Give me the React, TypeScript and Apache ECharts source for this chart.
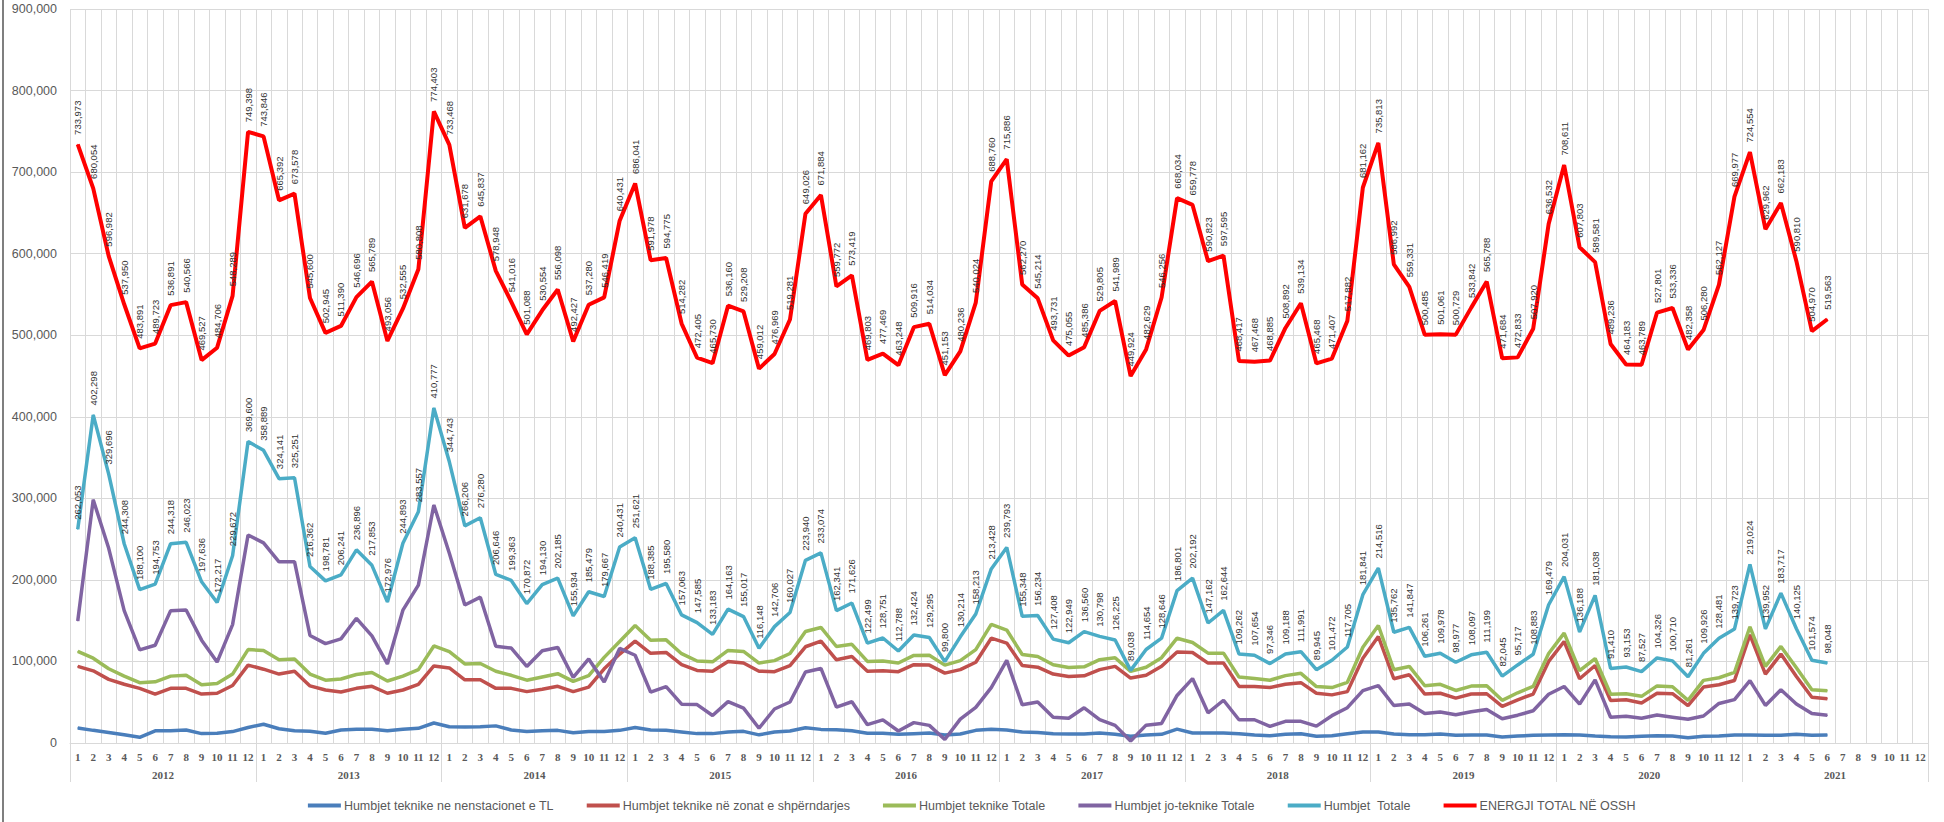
import React, { useEffect, useRef } from "react";
import * as echarts from "echarts";

const years = ["2012", "2013", "2014", "2015", "2016", "2017", "2018", "2019", "2020", "2021"];
const months = ["1", "2", "3", "4", "5", "6", "7", "8", "9", "10", "11", "12"];
const yTicks = [0, 900000, 100000]; // min, max, interval

const seriesNames = [
  "Humbjet teknike ne nenstacionet e TL",
  "Humbjet teknike në zonat e shpërndarjes",
  "Humbjet teknike Totale",
  "Humbjet jo-teknike Totale",
  "Humbjet  Totale",
  "ENERGJI TOTAL NË OSSH",
];

const humbjetTL = [
  18400, 15500, 13000, 10000, 7000, 15000, 15000, 16000, 11500, 12000, 14000, 19000,
  23000, 17500, 15000, 14500, 12000, 16000, 17000, 17000, 15000, 17000, 18000, 24500,
  20000, 19500, 20000, 21000, 16000, 14000, 15000, 15500, 12500, 14000, 14000, 15500,
  19000, 16000, 15500, 13500, 11500, 11500, 13500, 14300, 10000, 13500, 14700, 18800,
  16700, 16300, 15000, 12000, 12000, 10600, 11400, 12200, 9800, 11000, 15500, 17000,
  16000, 13500, 13000, 11400, 11000, 11000, 12200, 10600, 8200, 9800, 10600, 17000,
  12200, 12200, 12200, 11400, 9800, 9000, 10600, 11400, 8200, 9000, 11400, 13500,
  13500, 11000, 10200, 10200, 11000, 9400, 9800, 9800, 7300, 8600, 9400, 9800,
  10200, 9800, 8600, 7800, 7300, 8200, 9000, 8600, 6500, 8200, 8600, 9800,
  9800, 9400, 9400, 10600, 9400, 9800,
];

const humbjetZonat = [
  94000, 88500, 78000, 72000, 67000, 60000, 67000, 67000, 60000, 61000, 70500, 95500,
  90500, 84500, 88000, 70000, 65000, 62500, 67000, 69500, 61000, 65000, 72000, 94500,
  92000, 77500, 77500, 67000, 67000, 63000, 66000, 69500, 63000, 68500, 91000, 109000,
  125000, 110000, 111000, 96000, 89000, 88000, 100000, 98000, 88000, 87500, 95000, 118000,
  125000, 102000, 106000, 88000, 88500, 87500, 96000, 95500, 85700, 90000, 99000, 128500,
  122500, 95000, 93000, 84500, 81600, 82400, 90000, 94000, 79600, 83000, 94000, 111500,
  111000, 98000, 98000, 69400, 69400, 68000, 72000, 74000, 61000, 59000, 63000, 104000,
  130600, 78800, 83700, 60000, 61000, 55000, 60000, 60400, 45000, 53000, 60000, 100000,
  124500, 78800, 95000, 52000, 53000, 49000, 61000, 60400, 45700, 68600, 71400, 76700,
  132700, 84500, 109000, 81600, 56000, 54300,
];

const humbjetTeknike = [
  112400, 104000, 91000, 82000, 74000, 75000, 82000, 83000, 71500, 73000, 84500, 114500,
  113500, 102000, 103000, 84500, 77000, 78500, 84000, 86500, 76000, 82000, 90000, 119000,
  112000, 97000, 97500, 88000, 83000, 77000, 81000, 85000, 75500, 82500, 105000, 124500,
  144000, 126000, 126500, 109500, 100500, 99500, 113500, 112300, 98000, 101000, 109700, 136800,
  141700, 118300, 121000, 100000, 100500, 98100, 107400, 107700, 95500, 101000, 114500, 145500,
  138500, 108500, 106000, 95900, 92600, 93400, 102200, 104600, 87800, 92800, 104600, 128500,
  123200, 110200, 110200, 80800, 79200, 77000, 82600, 85400, 69200, 68000, 74400, 117500,
  144100, 89800, 93900, 70200, 72000, 64400, 69800, 70200, 52300, 61600, 69400, 109800,
  134700, 88600, 103600, 59800, 60300, 57200, 70000, 69000, 52200, 76800, 80000, 86500,
  142500, 93900, 118400, 92200, 65400, 64100,
];

const humbjetJoTeknike = [
  149700, 298300, 238700, 162300, 114100, 119800, 162300, 163000, 126100, 99200, 145200, 255100,
  245400, 222100, 222300, 131900, 121800, 127700, 152900, 131400, 97000, 162900, 193600, 291800,
  232700, 169200, 178800, 118600, 116400, 93900, 113100, 117200, 80400, 103000, 74700, 115900,
  107600, 62400, 69100, 47600, 47100, 33700, 50700, 42700, 18100, 41700, 50300, 87100,
  91400, 44000, 50600, 22500, 28300, 14700, 25000, 21600, 4300, 29200, 43700, 67900,
  101300, 46800, 50200, 31500, 30300, 43200, 28600, 21600, 2500, 21900, 24000, 58300,
  79000, 37000, 52400, 28500, 28500, 20300, 26600, 26600, 20700, 33500, 43300, 64300,
  70400, 46000, 47900, 36100, 38000, 34600, 38300, 41000, 29700, 34100, 39500, 59700,
  69300, 47600, 77400, 31600, 32900, 30300, 34300, 31700, 29100, 33100, 48500, 53200,
  76500, 46100, 65300, 47900, 36200, 33900,
];

const humbjetTotale = [
  262053, 402298, 329696, 244308, 188100, 194753, 244318, 246023, 197636, 172217, 229672, 369600,
  358889, 324141, 325251, 216362, 198781, 206241, 236896, 217853, 172976, 244893, 283557, 410777,
  344743, 266206, 276280, 206646, 199363, 170872, 194130, 202185, 155934, 185479, 179667, 240431,
  251621, 188385, 195580, 157063, 147585, 133183, 164163, 155017, 116148, 142706, 160027, 223940,
  233074, 162341, 171626, 122499, 128751, 112788, 132424, 129295, 99800, 130214, 158213, 213428,
  239793, 155348, 156234, 127408, 122949, 136560, 130798, 126225, 89038, 114654, 128646, 186801,
  202192, 147162, 162644, 109262, 107654, 97346, 109188, 111991, 89945, 101472, 117705, 181841,
  214516, 135762, 141847, 106261, 109978, 98977, 108097, 111199, 82045, 95717, 108883, 169479,
  204031, 136188, 181038, 91410, 93153, 87527, 104326, 100710, 81261, 109926, 128481, 139723,
  219024, 139952, 183717, 140125, 101574, 98048,
];

const energjiTotal = [
  733973, 680054, 596982, 537950, 483891, 489723, 536891, 540566, 469527, 484706, 548289, 749398,
  743846, 665392, 673578, 545600, 502945, 511390, 546696, 565789, 493056, 532555, 580808, 774403,
  733468, 631678, 645837, 578948, 541016, 501088, 530554, 556098, 492427, 537280, 546419, 640431,
  686041, 591978, 594775, 514282, 472405, 465730, 536160, 529208, 459012, 476969, 519281, 649026,
  671884, 559772, 573419, 469803, 477469, 463248, 509916, 514034, 451153, 480236, 540024, 688760,
  715886, 562270, 545214, 493731, 475055, 485386, 529805, 541989, 449924, 482629, 546256, 668034,
  659778, 590823, 597595, 468417, 467468, 468885, 508892, 539134, 465468, 471407, 517882, 681162,
  735813, 586992, 559331, 500485, 501061, 500729, 533842, 565788, 471684, 472833, 507920, 636532,
  708611, 607803, 589581, 489236, 464183, 463789, 527801, 533336, 482358, 506280, 562127, 669977,
  724554, 629962, 662183, 590810, 504970, 519563,
];

const seriesData = [humbjetTL, humbjetZonat, humbjetTeknike, humbjetJoTeknike, humbjetTotale, energjiTotal];
const seriesColors = ["#4a7ebb", "#c0504d", "#9bbb59", "#8064a2", "#4bacc6", "#ff0000"];
const labelled = [false, false, false, false, true, true];

const categories = years.flatMap((y) => months.map((m) => `${y}-${m}`));

const fmt = (v: number) => Number(v).toLocaleString("en-US");

export default function App() {
  const ref = useRef<HTMLDivElement>(null);

  useEffect(() => {
    if (!ref.current) return;
    const chart = echarts.init(ref.current, undefined, { renderer: "svg" });
    const gray = "#595959";
    const grid = "#d9d9d9";

    const series = seriesNames.map((name, i) => ({
      name,
      type: "line",
      data: seriesData[i],
      xAxisIndex: 0,
      yAxisIndex: 0,
      symbol: "circle",
      symbolSize: 1,
      showSymbol: true,
      z: 2 + i,
      lineStyle: { color: seriesColors[i], width: i === 5 ? 4 : 3.5 },
      itemStyle: { color: seriesColors[i] },
      emphasis: { disabled: true },
      label: labelled[i]
        ? {
            show: true,
            position: "top",
            rotate: 90,
            align: "left",
            verticalAlign: "middle",
            distance: 9,
            fontSize: 9.5,
            fontFamily: "Liberation Sans",
            color: "#333333",
            formatter: (p: any) => fmt(p.value),
          }
        : { show: false },
    }));

    chart.setOption({
      animation: false,
      backgroundColor: "#ffffff",
      grid: { left: 70, right: 16, top: 9, bottom: 79, containLabel: false },
      legend: {
        data: seriesNames,
        left: "center",
        top: 794,
        icon: "rect",
        itemWidth: 33,
        itemHeight: 4,
        itemGap: 33,
        textStyle: { fontFamily: "Liberation Sans", fontSize: 12.5, color: gray, padding: [0, 0, 0, -2] },
      },
      xAxis: [
        {
          type: "category",
          data: categories,
          position: "bottom",
          boundaryGap: true,
          axisLine: { show: true, lineStyle: { color: grid, width: 1 } },
          axisTick: { show: false },
          axisLabel: {
            interval: 0,
            margin: 8,
            formatter: (v: string) => v.split("-")[1],
            fontFamily: "Liberation Serif",
            fontWeight: "bold",
            fontSize: 11,
            color: gray,
          },
          splitLine: { show: true, interval: 0, lineStyle: { color: grid, width: 1 } },
        },
        {
          type: "category",
          data: years,
          position: "bottom",
          boundaryGap: true,
          axisLine: { show: false },
          axisTick: { show: true, interval: 0, length: 39, lineStyle: { color: grid, width: 1 } },
          axisLabel: {
            interval: 0,
            margin: 26,
            fontFamily: "Liberation Serif",
            fontWeight: "bold",
            fontSize: 11,
            color: gray,
          },
          splitLine: { show: false },
        },
      ],
      yAxis: {
        type: "value",
        min: yTicks[0],
        max: yTicks[1],
        interval: yTicks[2],
        axisLine: { show: false },
        axisTick: { show: false },
        axisLabel: {
          margin: 13,
          fontFamily: "Liberation Sans",
          fontSize: 12.5,
          color: gray,
          formatter: (v: number) => fmt(v),
        },
        splitLine: { show: true, lineStyle: { color: grid, width: 1 } },
      },
      graphic: [
        {
          type: "line",
          shape: { x1: 3, y1: 0, x2: 3, y2: 822 },
          style: { stroke: "#7f7f7f", lineWidth: 2 },
          silent: true,
        },
      ],
      series,
    });

    return () => chart.dispose();
  }, []);

  return (
    <div
      ref={ref}
      style={{ position: "fixed", left: 0, top: 0, width: "1944px", height: "822px", background: "#fff" }}
    />
  );
}
